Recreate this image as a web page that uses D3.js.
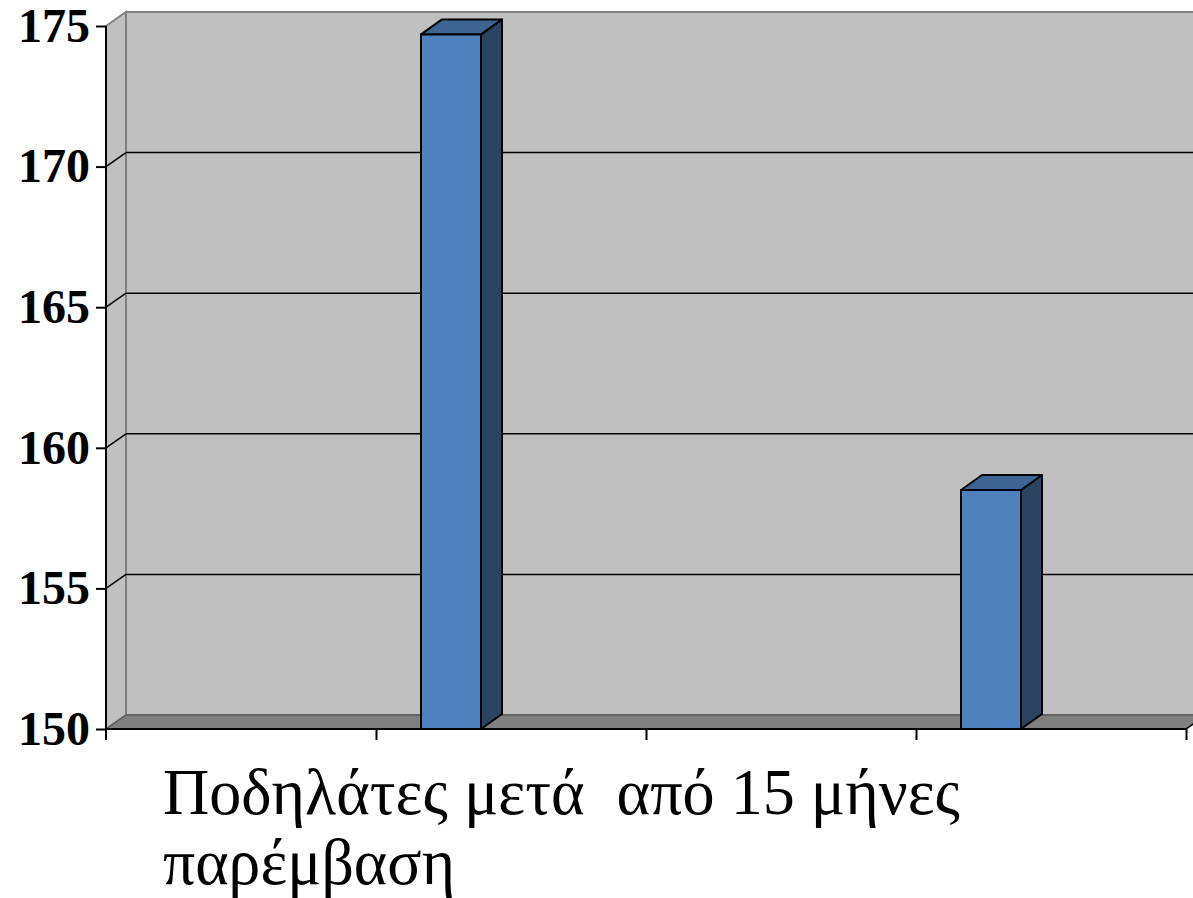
<!DOCTYPE html>
<html>
<head>
<meta charset="utf-8">
<script src="https://cdn.jsdelivr.net/npm/d3@7/dist/d3.min.js"></script>
<style>
  html, body { margin: 0; padding: 0; background: #ffffff; }
  svg { display: block; }
</style>
</head>
<body>
<svg id="chart" width="1193" height="898"></svg>
<script>
// ---- data ----
const categories = ["1", "2", "3", "4"];
const seriesNames = ["Σειρά 1", "Σειρά 2", "Σειρά 3"];
const series1 = [null, 174.7, null, 158.5];
const series2 = [null, null, null, null];
const series3 = [null, null, null, null];
const yTicks = [150, 155, 160, 165, 170, 175];
const titleLines = ["Ποδηλάτες μετά  από 15 μήνες", "παρέμβαση"];

const seriesValues = [series1, series2, series3];

(function () {
// ---- layout ----
const svg = d3.select("#chart");
const W = 1193;
const pLeft = 106, pRight = 1186, pTop = 26, pBottom = 729;
const wall = { dx: 20, dy: -14 };
const bar = { dx: 21, dy: -15 };

const y = d3.scaleLinear().domain([150, 175]).range([pBottom, pTop]);
const x = d3.scaleBand().domain(categories).range([pLeft, pRight]).paddingInner(0).paddingOuter(0);
const xs = d3.scaleBand().domain(seriesNames).range([0, x.bandwidth()]).paddingInner(0).paddingOuter(0.75);

const seriesColors = [
  { front: "#4F81BD", top: "#3D6493", side: "#2A4462" },
  { front: "#C0504D", top: "#963E3C", side: "#662A29" },
  { front: "#9BBB59", top: "#799246", side: "#536331" }
];

const yMin = y.domain()[0], yMax = y.domain()[1];
const pts = a => a.map(p => p.join(",")).join(" ");

// back wall
svg.append("rect")
  .attr("x", pLeft + wall.dx).attr("y", y(yMax) + wall.dy)
  .attr("width", W + 40 - (pLeft + wall.dx)).attr("height", y(yMin) - y(yMax))
  .attr("fill", "#C0C0C0").attr("stroke", "#808080").attr("stroke-width", 2);

// side wall
svg.append("polygon")
  .attr("points", pts([
    [pLeft, y(yMax)], [pLeft + wall.dx, y(yMax) + wall.dy],
    [pLeft + wall.dx, y(yMin) + wall.dy], [pLeft, y(yMin)]
  ]))
  .attr("fill", "#C0C0C0").attr("stroke", "#808080").attr("stroke-width", 2);

// gridlines
const grid = svg.append("g");
yTicks.filter(t => t > yMin && t < yMax).forEach(t => {
  grid.append("line")
    .attr("x1", pLeft + wall.dx).attr("x2", W + 40)
    .attr("y1", y(t) + wall.dy).attr("y2", y(t) + wall.dy)
    .attr("stroke", "#000").attr("stroke-width", 1.5);
  grid.append("line")
    .attr("x1", pLeft).attr("y1", y(t))
    .attr("x2", pLeft + wall.dx).attr("y2", y(t) + wall.dy)
    .attr("stroke", "#000").attr("stroke-width", 1.5);
});

// floor
svg.append("polygon")
  .attr("points", pts([
    [pLeft, y(yMin)], [pLeft + wall.dx, y(yMin) + wall.dy],
    [pRight + wall.dx, y(yMin) + wall.dy], [pRight, y(yMin)]
  ]))
  .attr("fill", "#808080").attr("stroke", "#5a5a5a").attr("stroke-width", 1.5);

// bars
const bars = svg.append("g");
seriesValues.forEach((vals, si) => {
  vals.forEach((v, ci) => {
    if (v == null) return;
    const x0 = x(categories[ci]) + xs(seriesNames[si]);
    const x1 = x0 + xs.bandwidth();
    const yt = y(v), yb = y(yMin);
    const c = seriesColors[si];
    const g = bars.append("g").attr("stroke", "#000").attr("stroke-width", 2).attr("stroke-linejoin", "round");
    g.append("polygon")
      .attr("points", pts([[x1, yt], [x1 + bar.dx, yt + bar.dy], [x1 + bar.dx, yb + bar.dy], [x1, yb]]))
      .attr("fill", c.side);
    g.append("polygon")
      .attr("points", pts([[x0, yt], [x0 + bar.dx, yt + bar.dy], [x1 + bar.dx, yt + bar.dy], [x1, yt]]))
      .attr("fill", c.top);
    g.append("rect")
      .attr("x", x0).attr("y", yt).attr("width", x1 - x0).attr("height", yb - yt)
      .attr("fill", c.front);
  });
});

// y axis
const yAxis = svg.append("g")
  .attr("transform", `translate(${pLeft},0)`)
  .call(d3.axisLeft(y).tickValues(yTicks).tickSize(10).tickPadding(6).tickFormat(d3.format("d")));
yAxis.select(".domain").remove();
yAxis.append("line").attr("x1", 0).attr("x2", 0).attr("y1", pTop).attr("y2", pBottom + 11)
  .attr("stroke", "#000").attr("stroke-width", 2);
yAxis.selectAll(".tick line").attr("stroke", "#000").attr("stroke-width", 2);
yAxis.selectAll(".tick text")
  .attr("font-family", "'Liberation Serif', 'Times New Roman', serif")
  .attr("font-weight", "bold").attr("font-size", 48).attr("fill", "#000");

// x axis (category boundary ticks)
const xb = d3.scaleLinear().domain([0, categories.length]).range([pLeft, pRight]);
const xAxis = svg.append("g")
  .attr("transform", `translate(0,${pBottom})`)
  .call(d3.axisBottom(xb).tickValues(d3.range(1, categories.length + 1)).tickSize(11).tickFormat(""));
xAxis.select(".domain").remove();
xAxis.append("line").attr("x1", pLeft).attr("x2", pRight).attr("y1", 0).attr("y2", 0)
  .attr("stroke", "#000").attr("stroke-width", 2);
xAxis.append("line").attr("x1", pRight).attr("x2", pRight + wall.dx).attr("y1", 0).attr("y2", wall.dy)
  .attr("stroke", "#000").attr("stroke-width", 1.5);
xAxis.selectAll(".tick line").attr("stroke", "#000").attr("stroke-width", 2);

// axis title
const titleWidths = [797, 292];
titleLines.forEach((t, i) => {
  svg.append("text")
    .attr("font-family", "'Liberation Serif', 'Times New Roman', serif")
    .attr("font-size", 66).attr("fill", "#000")
    .attr("xml:space", "preserve").style("white-space", "pre")
    .attr("x", 163).attr("y", 814 + i * 70)
    .attr("textLength", titleWidths[i]).attr("lengthAdjust", "spacingAndGlyphs")
    .text(t);
});
})();
</script>
</body>
</html>
